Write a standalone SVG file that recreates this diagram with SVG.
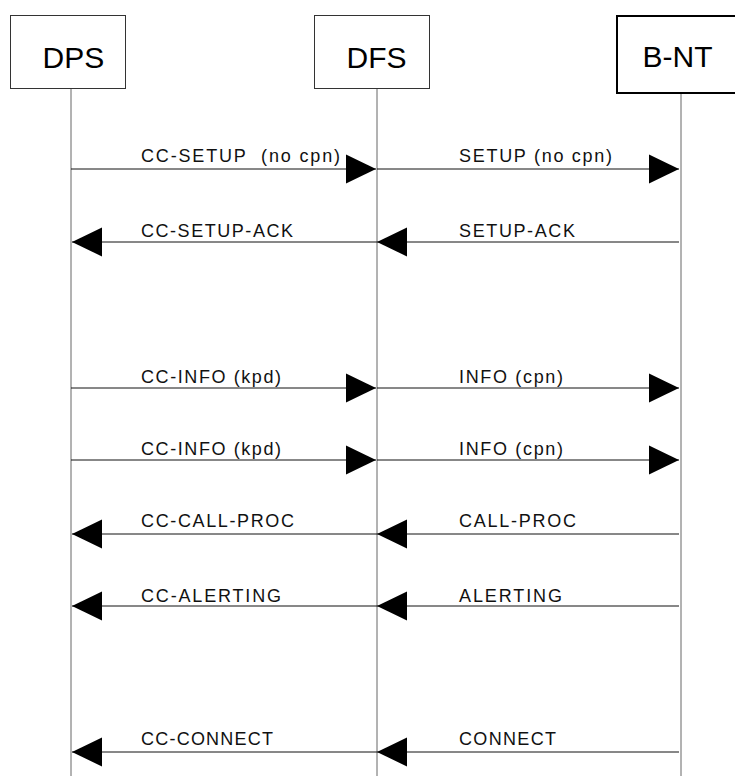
<svg xmlns="http://www.w3.org/2000/svg" width="735" height="776" viewBox="0 0 735 776">
<style>
.box{fill:#fff;stroke:#333;stroke-width:1}
.boxb{fill:#fff;stroke:#000;stroke-width:2}
.title{font-family:"Liberation Sans",Arial,sans-serif;font-size:30px;fill:#000}
.life{stroke:#666;stroke-width:1;fill:none}
.msg{stroke:#111;stroke-width:1;fill:none;marker-end:url(#ah)}
.lbl{font-family:"Liberation Sans",Arial,sans-serif;font-size:18px;fill:#111}
</style>
<defs>
<marker id="ah" markerUnits="userSpaceOnUse" markerWidth="30" markerHeight="30" viewBox="0 0 29 28" refX="29" refY="14" orient="auto">
<path d="M0,0 L29,14 L0,28 z" fill="#000"/>
</marker>
</defs>
<rect width="735" height="776" fill="#fff"/>
<g id="node-dps">
<rect class="box" x="10.5" y="15.5" width="115" height="73"/>
<text class="title" x="42.5" y="68">DPS</text>
<line class="life" x1="71" y1="89" x2="71" y2="776"/>
</g>
<g id="node-dfs">
<rect class="box" x="314.5" y="15.5" width="115" height="73"/>
<text class="title" x="346.5" y="68">DFS</text>
<line class="life" x1="377" y1="89" x2="377" y2="776"/>
</g>
<g id="node-bnt">
<rect class="boxb" x="617" y="16" width="130" height="77"/>
<text class="title" x="642.5" y="67">B-NT</text>
<line class="life" x1="681" y1="94" x2="681" y2="776"/>
</g>
<g id="connectors">
<line class="msg" x1="71" y1="169" x2="376" y2="169"/>
<line class="msg" x1="377" y1="169" x2="679" y2="169"/>
<line class="msg" x1="377" y1="242" x2="72" y2="242"/>
<line class="msg" x1="679" y1="242" x2="377" y2="242"/>
<line class="msg" x1="71" y1="388" x2="376" y2="388"/>
<line class="msg" x1="377" y1="388" x2="679" y2="388"/>
<line class="msg" x1="71" y1="460" x2="376" y2="460"/>
<line class="msg" x1="377" y1="460" x2="679" y2="460"/>
<line class="msg" x1="377" y1="534" x2="72" y2="534"/>
<line class="msg" x1="679" y1="534" x2="377" y2="534"/>
<line class="msg" x1="377" y1="606" x2="72" y2="606"/>
<line class="msg" x1="679" y1="606" x2="377" y2="606"/>
<line class="msg" x1="377" y1="752" x2="72" y2="752"/>
<line class="msg" x1="679" y1="752" x2="377" y2="752"/>
</g>
<g id="labels">
<text class="lbl" x="141" y="162" textLength="199" lengthAdjust="spacing" xml:space="preserve">CC-SETUP  (no cpn)</text>
<text class="lbl" x="459" y="162" textLength="153" lengthAdjust="spacing">SETUP (no cpn)</text>
<text class="lbl" x="141" y="237" textLength="152" lengthAdjust="spacing">CC-SETUP-ACK</text>
<text class="lbl" x="459" y="237" textLength="116" lengthAdjust="spacing">SETUP-ACK</text>
<text class="lbl" x="141" y="383" textLength="140" lengthAdjust="spacing">CC-INFO (kpd)</text>
<text class="lbl" x="459" y="383" textLength="104" lengthAdjust="spacing">INFO (cpn)</text>
<text class="lbl" x="141" y="455" textLength="140" lengthAdjust="spacing">CC-INFO (kpd)</text>
<text class="lbl" x="459" y="455" textLength="104" lengthAdjust="spacing">INFO (cpn)</text>
<text class="lbl" x="141" y="527" textLength="153" lengthAdjust="spacing">CC-CALL-PROC</text>
<text class="lbl" x="459" y="527" textLength="117" lengthAdjust="spacing">CALL-PROC</text>
<text class="lbl" x="141" y="602" textLength="140" lengthAdjust="spacing">CC-ALERTING</text>
<text class="lbl" x="459" y="602" textLength="103" lengthAdjust="spacing">ALERTING</text>
<text class="lbl" x="141" y="745" textLength="132" lengthAdjust="spacing">CC-CONNECT</text>
<text class="lbl" x="459" y="745" textLength="97" lengthAdjust="spacing">CONNECT</text>
</g>
</svg>
